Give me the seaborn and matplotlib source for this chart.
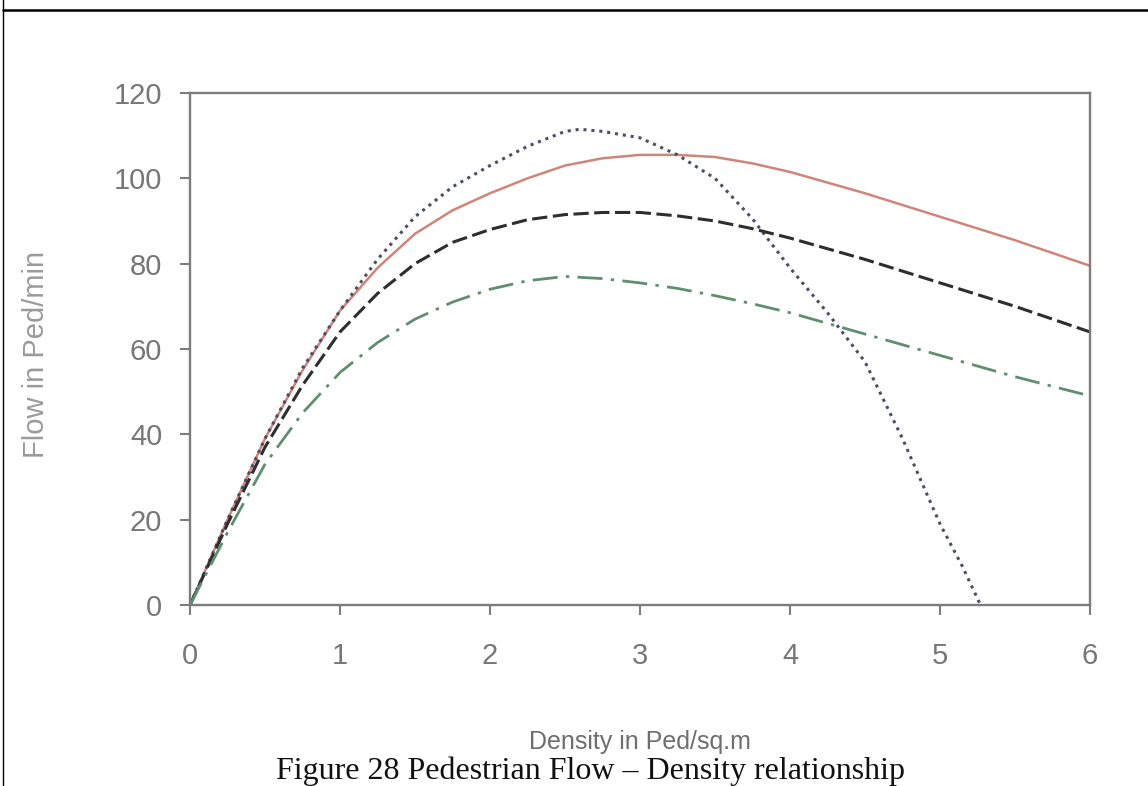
import matplotlib
matplotlib.use("Agg")
import matplotlib.pyplot as plt
from matplotlib.lines import Line2D
import seaborn as sns

# Pedestrian flow (ped/min) against density (ped/sq.m) for four relationships
density = [0, 0.25, 0.5, 0.75, 1, 1.25, 1.5, 1.75, 2, 2.25, 2.5, 2.75, 3,
           3.25, 3.5, 3.75, 4, 4.5, 5, 5.5, 6]
flow_solid = [0, 20, 39, 55, 69, 79, 87, 92.5, 96.5, 100, 103, 104.7, 105.5,
              105.5, 105, 103.5, 101.5, 96.5, 91, 85.5, 79.5]
flow_dashed = [0, 19, 37, 51.5, 64, 73, 80, 85, 88, 90.3, 91.5, 92, 92,
               91.2, 90, 88.2, 86, 81, 75.5, 70, 64]
flow_dashdot = [0, 17, 33, 45, 54.5, 61.5, 67, 71, 74, 76, 77, 76.5, 75.5,
                74.2, 72.5, 70.6, 68.5, 63.5, 58.5, 53.5, 49]

density_dotted = [0, 0.25, 0.5, 0.75, 1, 1.25, 1.5, 1.75, 2, 2.25, 2.5, 2.6,
                  2.75, 3, 3.25, 3.5, 3.75, 4, 4.25, 4.5, 4.75, 5, 5.15, 5.27]
flow_dotted = [0, 20, 39, 55.5, 69, 81, 91, 98, 103, 107.5, 111, 111.5,
               111, 109.5, 105.5, 100, 90.5, 79, 68.5, 57, 39, 19, 9, 0]

x_ticks = [0, 1, 2, 3, 4, 5, 6]
y_ticks = [0, 20, 40, 60, 80, 100, 120]

sns.set_theme(style="white")
plt.rcParams["font.family"] = ["Liberation Sans", "DejaVu Sans"]

fig = plt.figure(figsize=(11.48, 7.86), dpi=100)
ax = fig.add_axes([190 / 1148, 1 - 605 / 786, 900 / 1148, 512 / 786])

sns.lineplot(x=density, y=flow_solid, ax=ax, color="#cf8579", lw=1.8,
             linestyle="-", sort=False, estimator=None)
sns.lineplot(x=density_dotted, y=flow_dotted, ax=ax, color="#4b4f63", lw=2.2,
             linestyle=(0, (1, 1.6)), sort=False, estimator=None)
sns.lineplot(x=density, y=flow_dashed, ax=ax, color="#2e2e2e", lw=2.2,
             linestyle=(0, (5, 1.8)), sort=False, estimator=None)
sns.lineplot(x=density, y=flow_dashdot, ax=ax, color="#5f8f70", lw=2.0,
             linestyle=(0, (9, 3, 1.2, 3)), sort=False, estimator=None)

ax.set_xlim(0, 6)
ax.set_ylim(0, 120)
ax.set_xticks(x_ticks)
ax.set_yticks(y_ticks)
ax.set_xticklabels([str(v) for v in x_ticks])
ax.set_yticklabels([str(v) for v in y_ticks])

for side in ["left", "right", "top", "bottom"]:
    ax.spines[side].set_visible(True)
    ax.spines[side].set_color("#7d7d7d")
    ax.spines[side].set_linewidth(1.7)

ax.tick_params(axis="both", which="major", direction="out", color="#7d7d7d",
               width=1.5, labelcolor="#777777", labelsize=21)
ax.tick_params(axis="x", length=7, pad=20, bottom=True)
ax.tick_params(axis="y", length=7, pad=13, left=True)

ax.set_xlabel("Density in Ped/sq.m", fontsize=18, color="#6e6e6e")
ax.xaxis.set_label_coords(0.5, -0.245)
ax.set_ylabel("Flow in Ped/min", fontsize=21, color="#9a9a9a")
ax.yaxis.set_label_coords(-0.155, 0.49)

fig.text(591 / 1148, 1 - 771 / 786, "Figure 28 Pedestrian Flow \u2013 Density relationship",
         ha="center", va="center", fontsize=23, color="#111111",
         family=["Liberation Serif", "DejaVu Serif"])

# page frame around the figure block
fig.add_artist(Line2D([3 / 1148, 1], [1 - 10 / 786, 1 - 10 / 786],
                      transform=fig.transFigure, color="black", lw=1.8))
fig.add_artist(Line2D([3 / 1148, 3 / 1148], [0, 1],
                      transform=fig.transFigure, color="black", lw=1.0))

fig.savefig("out.png", dpi=100)
